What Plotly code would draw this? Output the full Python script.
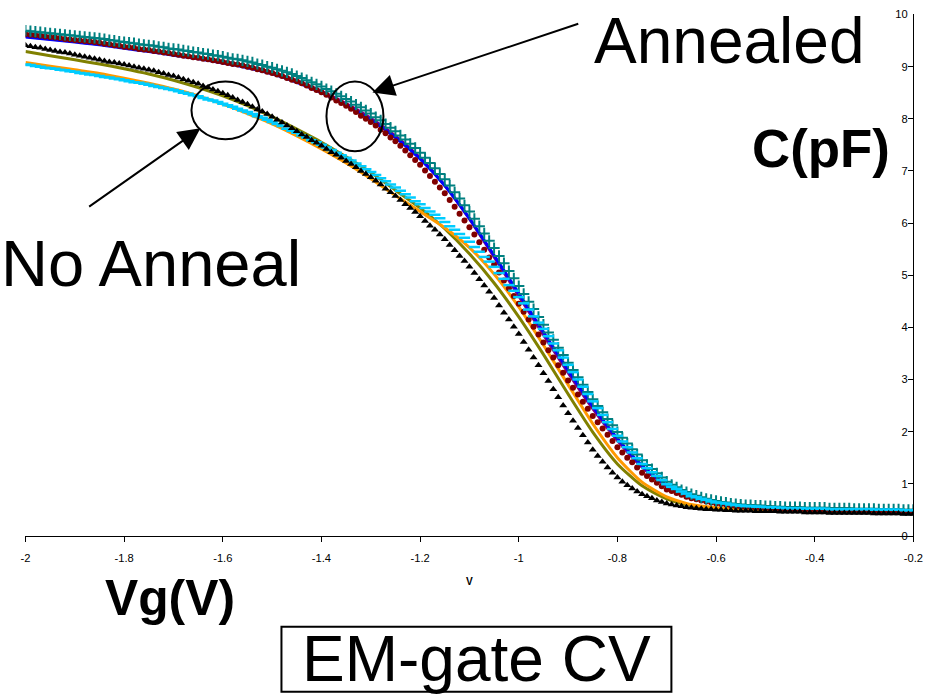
import plotly.graph_objects as go

W, H = 929, 698
# the rendered page shows the figure slightly reduced and inset;
# layout positions are expressed in final page pixels and converted here
SCALE = 0.984
INSET = 5.5

# ---- data -------------------------------------------------------------
# gate voltage grids (V): 10 mV for the marker series, 50 mV for the lines
v_fine = [round(-2.0 + 0.01 * i, 2) for i in range(181)]
v_coarse = [round(-2.0 + 0.05 * i, 2) for i in range(37)]

# annealed devices
c_teal = [
    9.69, 9.68, 9.67, 9.66, 9.65, 9.64, 9.63, 9.62, 9.61, 9.60,
    9.59, 9.58, 9.57, 9.56, 9.55, 9.54, 9.53, 9.51, 9.50, 9.48,
    9.47, 9.46, 9.45, 9.43, 9.42, 9.41, 9.40, 9.38, 9.37, 9.35,
    9.34, 9.33, 9.31, 9.30, 9.28, 9.27, 9.25, 9.24, 9.22, 9.21,
    9.19, 9.17, 9.15, 9.14, 9.12, 9.10, 9.08, 9.05, 9.03, 9.00,
    8.98, 8.95, 8.92, 8.89, 8.86, 8.82, 8.78, 8.74, 8.70, 8.66,
    8.62, 8.57, 8.53, 8.48, 8.43, 8.38, 8.33, 8.27, 8.22, 8.16,
    8.10, 8.03, 7.97, 7.90, 7.83, 7.76, 7.68, 7.60, 7.52, 7.44,
    7.35, 7.25, 7.15, 7.05, 6.94, 6.84, 6.72, 6.59, 6.47, 6.34,
    6.22, 6.08, 5.94, 5.80, 5.66, 5.52, 5.37, 5.23, 5.08, 4.94,
    4.79, 4.64, 4.49, 4.35, 4.20, 4.05, 3.90, 3.76, 3.61, 3.47,
    3.32, 3.18, 3.04, 2.90, 2.76, 2.62, 2.49, 2.37, 2.24, 2.12,
    1.99, 1.88, 1.77, 1.66, 1.56, 1.45, 1.36, 1.28, 1.20, 1.12,
    1.04, 0.98, 0.93, 0.88, 0.84, 0.80, 0.77, 0.74, 0.71, 0.69,
    0.67, 0.65, 0.64, 0.62, 0.61, 0.60, 0.59, 0.59, 0.58, 0.58,
    0.57, 0.57, 0.56, 0.56, 0.55, 0.55, 0.55, 0.55, 0.54, 0.54,
    0.54, 0.54, 0.54, 0.53, 0.53, 0.53, 0.53, 0.53, 0.52, 0.52,
    0.52, 0.52, 0.52, 0.51, 0.51, 0.51, 0.51, 0.51, 0.50, 0.50,
    0.50,
]

c_maroon = [
    9.62, 9.61, 9.60, 9.59, 9.58, 9.57, 9.56, 9.55, 9.53, 9.52,
    9.51, 9.50, 9.49, 9.48, 9.47, 9.46, 9.44, 9.43, 9.41, 9.40,
    9.38, 9.37, 9.36, 9.34, 9.33, 9.32, 9.30, 9.29, 9.27, 9.26,
    9.24, 9.23, 9.21, 9.20, 9.18, 9.17, 9.15, 9.14, 9.12, 9.11,
    9.09, 9.07, 9.05, 9.04, 9.02, 9.00, 8.98, 8.95, 8.93, 8.90,
    8.88, 8.85, 8.82, 8.78, 8.75, 8.72, 8.68, 8.64, 8.59, 8.55,
    8.51, 8.46, 8.41, 8.35, 8.30, 8.25, 8.19, 8.13, 8.06, 8.00,
    7.94, 7.87, 7.79, 7.72, 7.64, 7.57, 7.48, 7.39, 7.30, 7.21,
    7.12, 7.01, 6.90, 6.79, 6.68, 6.57, 6.44, 6.31, 6.18, 6.05,
    5.92, 5.78, 5.63, 5.49, 5.34, 5.20, 5.05, 4.90, 4.75, 4.60,
    4.45, 4.30, 4.15, 4.01, 3.86, 3.71, 3.56, 3.42, 3.27, 3.13,
    2.98, 2.84, 2.71, 2.57, 2.44, 2.30, 2.18, 2.06, 1.94, 1.82,
    1.70, 1.60, 1.50, 1.41, 1.31, 1.21, 1.15, 1.08, 1.02, 0.95,
    0.89, 0.86, 0.82, 0.79, 0.75, 0.72, 0.70, 0.68, 0.66, 0.64,
    0.62, 0.61, 0.60, 0.58, 0.57, 0.56, 0.55, 0.55, 0.54, 0.54,
    0.53, 0.53, 0.52, 0.52, 0.51, 0.51, 0.51, 0.51, 0.50, 0.50,
    0.50, 0.50, 0.50, 0.49, 0.49, 0.49, 0.49, 0.49, 0.48, 0.48,
    0.48, 0.48, 0.48, 0.47, 0.47, 0.47, 0.47, 0.47, 0.46, 0.46,
    0.46,
]

c_purple = [
    9.58, 9.53, 9.48, 9.43, 9.37, 9.31, 9.24, 9.17, 9.10, 9.01,
    8.89, 8.73, 8.53, 8.29, 8.01, 7.67, 7.25, 6.72, 6.08, 5.35,
    4.60, 3.86, 3.13, 2.44, 1.83, 1.32, 0.95, 0.75, 0.64, 0.58,
    0.55, 0.53, 0.52, 0.51, 0.50, 0.49, 0.48,
]

c_blue = [
    9.57, 9.52, 9.47, 9.42, 9.35, 9.29, 9.22, 9.15, 9.07, 8.98,
    8.86, 8.70, 8.50, 8.26, 7.98, 7.64, 7.23, 6.72, 6.09, 5.38,
    4.65, 3.91, 3.18, 2.49, 1.87, 1.35, 0.97, 0.76, 0.64, 0.58,
    0.55, 0.53, 0.52, 0.51, 0.50, 0.49, 0.48,
]

# devices without anneal
c_black = [
    9.41, 9.39, 9.37, 9.36, 9.34, 9.32, 9.30, 9.28, 9.27, 9.25,
    9.23, 9.21, 9.19, 9.17, 9.15, 9.13, 9.11, 9.09, 9.08, 9.06,
    9.04, 9.02, 9.00, 8.98, 8.96, 8.94, 8.92, 8.89, 8.87, 8.84,
    8.82, 8.79, 8.76, 8.73, 8.70, 8.67, 8.63, 8.60, 8.56, 8.53,
    8.49, 8.45, 8.41, 8.36, 8.32, 8.28, 8.23, 8.18, 8.14, 8.09,
    8.04, 7.98, 7.93, 7.87, 7.82, 7.76, 7.70, 7.65, 7.59, 7.54,
    7.48, 7.42, 7.36, 7.31, 7.25, 7.19, 7.13, 7.07, 7.00, 6.94,
    6.88, 6.81, 6.74, 6.66, 6.59, 6.52, 6.44, 6.36, 6.29, 6.21,
    6.13, 6.04, 5.95, 5.87, 5.78, 5.69, 5.58, 5.48, 5.37, 5.27,
    5.16, 5.04, 4.92, 4.80, 4.68, 4.56, 4.42, 4.28, 4.15, 4.01,
    3.87, 3.72, 3.57, 3.42, 3.27, 3.12, 2.97, 2.81, 2.66, 2.50,
    2.35, 2.21, 2.07, 1.93, 1.79, 1.65, 1.53, 1.42, 1.31, 1.21,
    1.12, 1.04, 0.97, 0.91, 0.85, 0.80, 0.76, 0.72, 0.68, 0.65,
    0.62, 0.60, 0.58, 0.57, 0.55, 0.54, 0.53, 0.52, 0.51, 0.51,
    0.50, 0.50, 0.49, 0.49, 0.48, 0.48, 0.48, 0.48, 0.47, 0.47,
    0.47, 0.47, 0.47, 0.46, 0.46, 0.46, 0.46, 0.46, 0.45, 0.45,
    0.45, 0.45, 0.45, 0.44, 0.44, 0.44, 0.44, 0.44, 0.44, 0.44,
    0.44, 0.44, 0.43, 0.43, 0.43, 0.43, 0.43, 0.43, 0.42, 0.42,
    0.42,
]

c_cyan = [
    9.04, 9.03, 9.01, 9.00, 8.98, 8.97, 8.96, 8.94, 8.93, 8.91,
    8.90, 8.88, 8.87, 8.85, 8.84, 8.82, 8.80, 8.79, 8.77, 8.76,
    8.74, 8.72, 8.70, 8.69, 8.67, 8.65, 8.63, 8.61, 8.59, 8.57,
    8.55, 8.53, 8.50, 8.48, 8.45, 8.43, 8.40, 8.37, 8.35, 8.32,
    8.29, 8.26, 8.23, 8.19, 8.16, 8.13, 8.09, 8.05, 8.02, 7.98,
    7.94, 7.90, 7.86, 7.81, 7.77, 7.73, 7.68, 7.64, 7.59, 7.55,
    7.50, 7.45, 7.40, 7.35, 7.30, 7.25, 7.20, 7.14, 7.09, 7.03,
    6.98, 6.92, 6.86, 6.80, 6.74, 6.68, 6.62, 6.55, 6.49, 6.42,
    6.36, 6.29, 6.22, 6.16, 6.09, 6.02, 5.94, 5.87, 5.79, 5.72,
    5.64, 5.54, 5.45, 5.35, 5.26, 5.16, 5.04, 4.93, 4.81, 4.70,
    4.58, 4.46, 4.34, 4.21, 4.09, 3.97, 3.83, 3.69, 3.56, 3.42,
    3.28, 3.14, 3.00, 2.86, 2.72, 2.58, 2.45, 2.32, 2.18, 2.05,
    1.92, 1.81, 1.70, 1.60, 1.49, 1.38, 1.30, 1.22, 1.15, 1.07,
    0.99, 0.94, 0.90, 0.85, 0.81, 0.76, 0.74, 0.71, 0.69, 0.66,
    0.64, 0.63, 0.62, 0.60, 0.59, 0.58, 0.57, 0.57, 0.56, 0.56,
    0.55, 0.55, 0.54, 0.54, 0.53, 0.53, 0.53, 0.53, 0.52, 0.52,
    0.52, 0.52, 0.52, 0.51, 0.51, 0.51, 0.51, 0.51, 0.51, 0.51,
    0.51, 0.51, 0.50, 0.50, 0.50, 0.50, 0.50, 0.50, 0.49, 0.49,
    0.49,
]

c_olive = [
    9.29, 9.21, 9.13, 9.05, 8.96, 8.86, 8.74, 8.60, 8.44, 8.25,
    8.04, 7.80, 7.55, 7.27, 6.97, 6.63, 6.29, 5.89, 5.41, 4.85,
    4.20, 3.48, 2.72, 1.99, 1.38, 0.96, 0.71, 0.58, 0.53, 0.50,
    0.49, 0.48, 0.47, 0.47, 0.46, 0.46, 0.45,
]

c_orange = [
    9.08, 9.01, 8.94, 8.87, 8.78, 8.68, 8.57, 8.44, 8.28, 8.10,
    7.90, 7.67, 7.42, 7.15, 6.85, 6.53, 6.22, 5.91, 5.53, 5.02,
    4.39, 3.66, 2.90, 2.15, 1.50, 1.03, 0.75, 0.60, 0.54, 0.51,
    0.50, 0.49, 0.48, 0.48, 0.47, 0.47, 0.46,
]

x_tick_vals = [-2.0, -1.8, -1.6, -1.4, -1.2, -1.0, -0.8, -0.6, -0.4, -0.2]
x_tick_text = ["-2", "-1.8", "-1.6", "-1.4", "-1.2", "-1", "-0.8", "-0.6", "-0.4", "-0.2"]
y_tick_vals = [0, 1, 2, 3, 4, 5, 6, 7, 8, 9, 10]

# ---- figure -------------------------------------------------------------
FONT = "Arial, 'Liberation Sans', sans-serif"


def px(t):
    """page pixels -> figure pixels"""
    return (t - INSET) / SCALE


def fx(x):
    return px(x) / W


def fy(y):
    return 1 - px(y) / H


def fs(size):
    return size / SCALE


fig = go.Figure()

line_series = [
    (c_purple, "#800080"),
    (c_blue, "#0000FF"),
    (c_olive, "#808000"),
    (c_orange, "#FF9900"),
]
for vals, col in line_series:
    fig.add_trace(go.Scatter(
        x=v_coarse, y=vals, mode="lines",
        line=dict(color=col, width=3, shape="spline", smoothing=0.6),
        hoverinfo="skip",
    ))

fig.add_trace(go.Scatter(
    x=v_fine, y=c_maroon, mode="markers",
    marker=dict(symbol="circle", size=6, color="#800000"),
    hoverinfo="skip",
))
fig.add_trace(go.Scatter(
    x=v_fine, y=c_teal, mode="markers",
    marker=dict(symbol="cross-thin", size=8, line=dict(color="#008080", width=2)),
    hoverinfo="skip",
))
fig.add_trace(go.Scatter(
    x=v_fine, y=c_cyan, mode="markers",
    marker=dict(symbol="line-ew", size=8, line=dict(color="#00CCFF", width=2.5)),
    hoverinfo="skip",
))
fig.add_trace(go.Scatter(
    x=v_fine, y=c_black, mode="markers",
    marker=dict(symbol="triangle-up", size=7, color="#000000"),
    hoverinfo="skip",
))

annotations = [
    dict(text="Annealed", x=fx(730), y=fy(41), font=dict(size=fs(63))),
    dict(text="No Anneal", x=fx(152), y=fy(263), font=dict(size=fs(64))),
    dict(text="<b>C(pF)</b>", x=fx(822), y=fy(148), font=dict(size=fs(52))),
    dict(text="<b>Vg(V)</b>", x=fx(171), y=fy(598), font=dict(size=fs(49))),
    dict(text="<b>V</b>", x=fx(470), y=fy(582), font=dict(size=fs(10))),
    dict(text="EM-gate CV", x=fx(477), y=fy(659), font=dict(size=fs(63))),
]
for a in annotations:
    a.update(xref="paper", yref="paper", showarrow=False,
             xanchor="center", yanchor="middle")
    a["font"].update(family=FONT, color="#000000")

# arrows pointing at the circled curve bundles
for tip, tail in [((373, 92), (577, 24)), ((201, 128), (90, 206))]:
    annotations.append(dict(
        x=fx(tip[0]), y=fy(tip[1]), xref="paper", yref="paper",
        ax=(tail[0] - tip[0]) / SCALE, ay=(tail[1] - tip[1]) / SCALE, text="",
        showarrow=True, arrowhead=2, arrowsize=2.2, arrowwidth=2,
        arrowcolor="#000000",
    ))

shapes = [
    dict(type="circle", xref="paper", yref="paper",
         x0=fx(327), x1=fx(384), y0=fy(151), y1=fy(81),
         line=dict(color="#000000", width=2)),
    dict(type="circle", xref="paper", yref="paper",
         x0=fx(192), x1=fx(260), y0=fy(139), y1=fy(81),
         line=dict(color="#000000", width=2)),
    # frame around the caption
    dict(type="rect", xref="paper", yref="paper",
         x0=fx(282), x1=fx(672), y0=fy(692), y1=fy(627),
         line=dict(color="#000000", width=2)),
]

fig.update_layout(
    width=W, height=H, autosize=False,
    margin=dict(l=0, r=0, t=0, b=0, pad=0),
    paper_bgcolor="#FFFFFF", plot_bgcolor="#FFFFFF",
    showlegend=False,
    font=dict(family=FONT, color="#000000"),
    annotations=annotations,
    shapes=shapes,
    xaxis=dict(
        domain=[fx(26), fx(914)], range=[-2.0, -0.2],
        tickvals=x_tick_vals, ticktext=x_tick_text,
        ticks="outside", ticklen=5, tickcolor="#000000", tickwidth=1,
        ticklabelstandoff=7, ticklabeloverflow="allow",
        showline=True, linecolor="#000000", linewidth=1,
        showgrid=False, zeroline=False,
        tickfont=dict(size=fs(11), family=FONT, color="#000000"),
    ),
    yaxis=dict(
        domain=[fy(536), fy(14)], range=[0, 10],
        side="right", tickvals=y_tick_vals,
        ticks="inside", ticklen=5, tickcolor="#000000", tickwidth=1,
        ticklabelposition="inside", ticklabeloverflow="allow",
        showline=True, linecolor="#000000", linewidth=1,
        showgrid=False, zeroline=False,
        tickfont=dict(size=fs(11), family=FONT, color="#000000"),
    ),
)

fig.write_html("out.html", config={"responsive": False})
